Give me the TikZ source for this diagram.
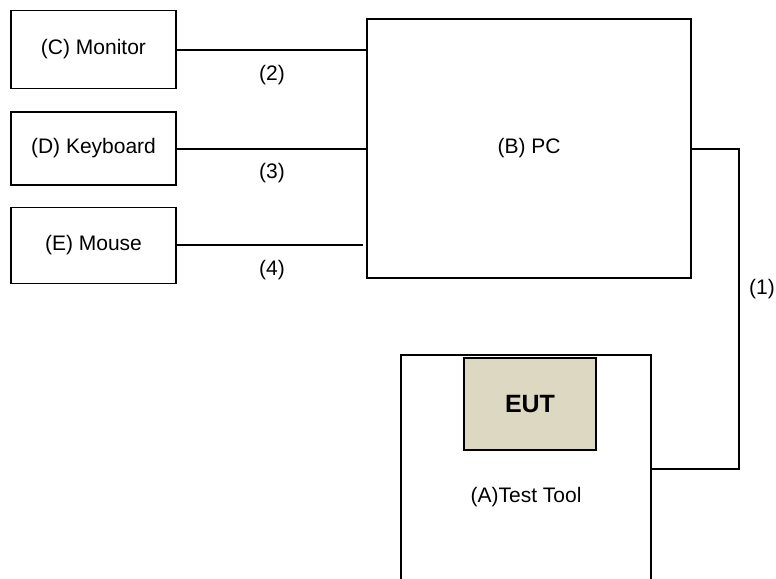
\documentclass[tikz,border=0pt]{standalone}
\usepackage{fontspec}
\setmainfont{Liberation Sans}
\definecolor{eutfill}{RGB}{220,216,193}
\begin{document}
\begin{tikzpicture}[x=1pt,y=-1pt,
  box/.style={draw=black,line width=1.5pt,fill=white,inner sep=0pt,font=\fontsize{21}{25}\selectfont},
  wire/.style={draw=black,line width=1.4pt},
  lbl/.style={font=\fontsize{21}{25}\selectfont,inner sep=0pt}]
\useasboundingbox (0,0) rectangle (776,578);
\clip (0,0) rectangle (776,578);
% devices
\node[box,minimum width=165pt,minimum height=78pt] (mon) at (93.5,49.5) {\raisebox{-2pt}{(C) Monitor}};
\node[box,minimum width=165pt,minimum height=73pt] (kbd) at (93.5,148.5) {\raisebox{-2pt}{(D) Keyboard}};
\node[box,minimum width=165pt,minimum height=76pt] (mou) at (93.5,245.5) {\raisebox{-2pt}{(E) Mouse}};
\node[box,minimum width=324pt,minimum height=259pt] (pc) at (529,148.5) {\raisebox{-2pt}{(B) PC}};
\node[box,minimum width=250pt,minimum height=228pt] (tool) at (526,469) {};
\node[box,fill=eutfill,minimum width=132pt,minimum height=92pt,font=\fontsize{25}{29}\bfseries\selectfont] (eut) at (530,404) {\raisebox{-2pt}{EUT}};
\node[lbl] (tooltxt) at (526,497) {(A)Test Tool};
% connectors
\draw[wire] (mon.east |- 0,50) -- (pc.west |- 0,50);
\draw[wire] (kbd.east |- 0,149) -- (pc.west |- 0,149);
\draw[wire,shorten >=3pt] (mou.east |- 0,245) -- (pc.west |- 0,245);
\coordinate (c1) at (739,149);
\coordinate (c2) at (739,469);
\draw[wire] (pc.east |- c1) -- (c1) -- (c2) -- (tool.east |- c2);
% labels
\node[lbl] (l2) at (272,75) {(2)};
\node[lbl] (l3) at (272,173) {(3)};
\node[lbl] (l4) at (272,270) {(4)};
\node[lbl] (l1) at (762,289) {(1)};
\end{tikzpicture}
\end{document}
